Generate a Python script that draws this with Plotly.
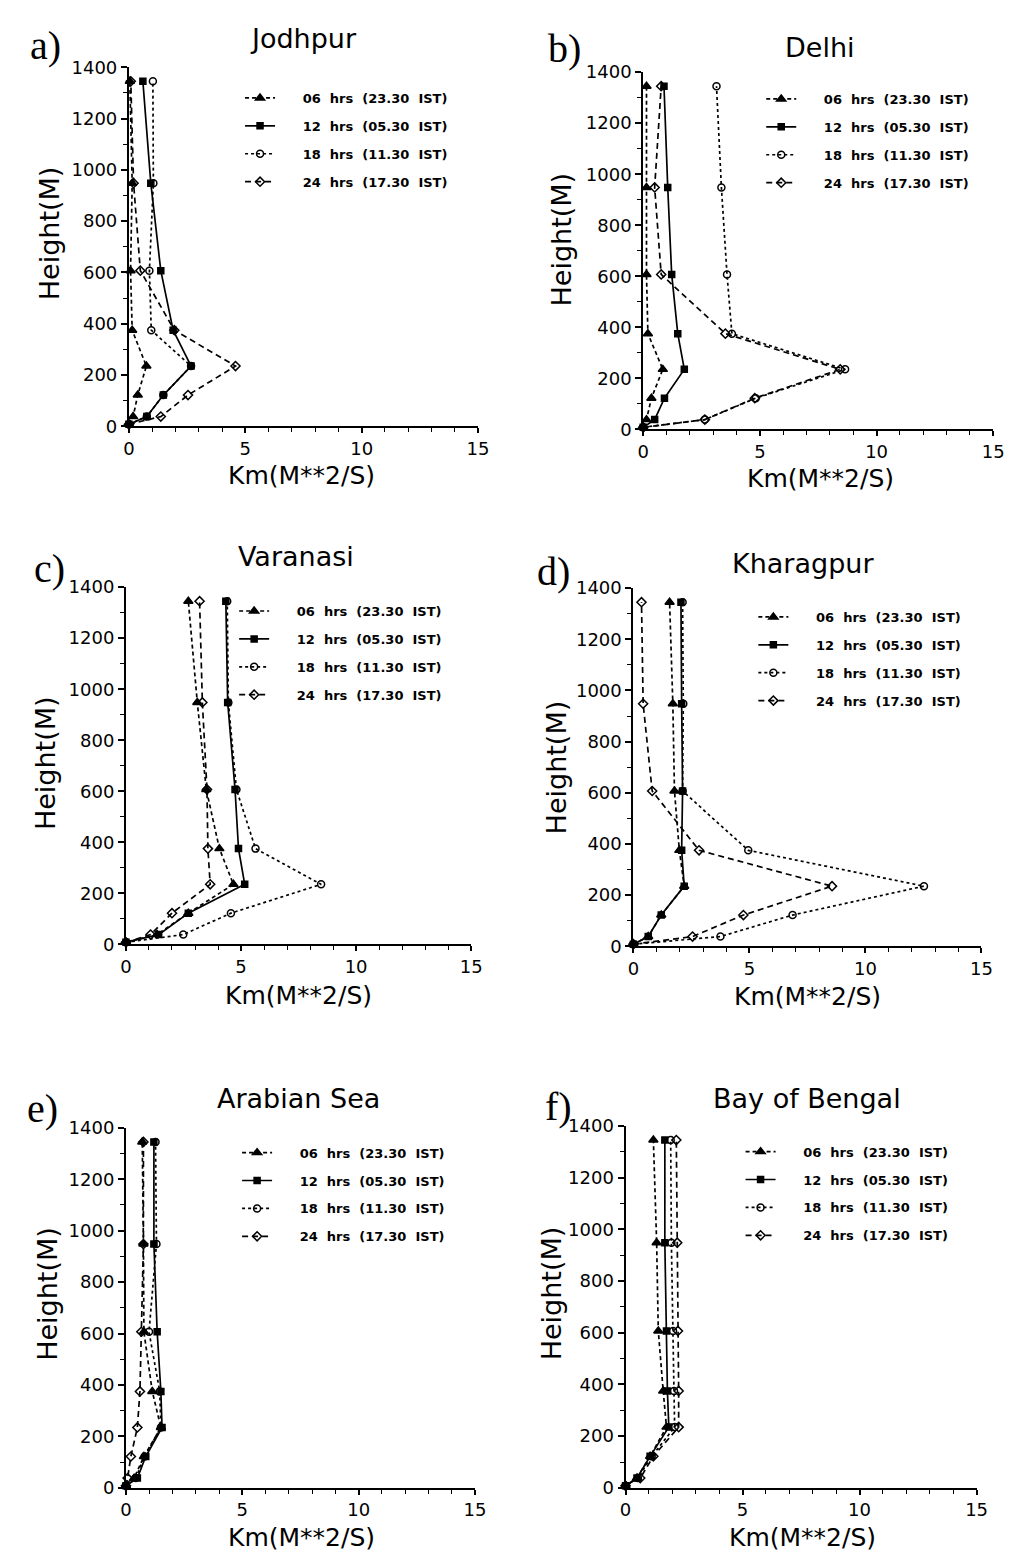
import plotly.graph_objects as go

# ---------------- data ----------------
HEIGHTS = [8, 38, 122, 235, 375, 607, 948, 1345]   # model levels (m)

SERIES_NAMES = ["06 hrs (23.30 IST)", "12 hrs (05.30 IST)",
                "18 hrs (11.30 IST)", "24 hrs (17.30 IST)"]
STATIONS = ["Jodhpur", "Delhi", "Varanasi", "Kharagpur", "Arabian Sea", "Bay of Bengal"]
PANEL_LETTERS = ["a)", "b)", "c)", "d)", "e)", "f)"]
X_TICKS = [0, 5, 10, 15]
Y_TICKS = [0, 200, 400, 600, 800, 1000, 1200, 1400]
X_TITLE = "Km(M**2/S)"
Y_TITLE = "Height(M)"

JODHPUR_06 = [0, 0.18, 0.38, 0.75, 0.14, 0.07, 0.14, 0.04]
JODHPUR_12 = [0, 0.77, 1.48, 2.67, 1.90, 1.37, 0.94, 0.60]
JODHPUR_18 = [0, 0.77, 1.48, 2.67, 0.96, 0.88, 1.05, 1.03]
JODHPUR_24 = [0, 1.37, 2.54, 4.58, 1.95, 0.49, 0.20, 0.08]

DELHI_06 = [0, 0.14, 0.35, 0.84, 0.20, 0.14, 0.14, 0.14]
DELHI_12 = [0, 0.49, 0.91, 1.76, 1.48, 1.22, 1.05, 0.89]
DELHI_18 = [0, 2.64, 4.82, 8.65, 3.80, 3.59, 3.35, 3.14]
DELHI_24 = [0, 2.64, 4.78, 8.44, 3.52, 0.77, 0.49, 0.77]

VARANASI_06 = [0, 1.35, 2.71, 4.67, 4.06, 3.49, 3.10, 2.71]
VARANASI_12 = [0, 1.42, 2.71, 5.16, 4.89, 4.74, 4.42, 4.34]
VARANASI_18 = [0, 2.49, 4.56, 8.48, 5.63, 4.80, 4.45, 4.40]
VARANASI_24 = [0, 1.07, 2.00, 3.66, 3.56, 3.52, 3.32, 3.20]

KHARAGPUR_06 = [0, 0.64, 1.20, 2.19, 1.98, 1.77, 1.70, 1.56]
KHARAGPUR_12 = [0, 0.64, 1.20, 2.19, 2.08, 2.12, 2.08, 2.05]
KHARAGPUR_18 = [0, 3.75, 6.86, 12.52, 4.95, 2.12, 2.15, 2.12]
KHARAGPUR_24 = [0, 2.55, 4.74, 8.56, 2.83, 0.81, 0.42, 0.35]

ARABIAN_06 = [0, 0.35, 0.77, 1.50, 1.13, 0.77, 0.75, 0.70]
ARABIAN_12 = [0, 0.49, 0.85, 1.55, 1.50, 1.34, 1.20, 1.20]
ARABIAN_18 = [0, 0.42, 0.80, 1.50, 1.45, 0.99, 1.31, 1.27]
ARABIAN_24 = [0, 0.07, 0.21, 0.49, 0.60, 0.66, 0.75, 0.75]

BENGAL_06 = [0, 0.49, 1.05, 1.75, 1.61, 1.40, 1.33, 1.19]
BENGAL_12 = [0, 0.49, 1.05, 1.85, 1.79, 1.75, 1.68, 1.68]
BENGAL_18 = [0, 0.53, 1.12, 2.10, 2.07, 2.03, 1.96, 1.93]
BENGAL_24 = [0, 0.63, 1.19, 2.27, 2.27, 2.24, 2.21, 2.17]

PANEL_DATA = [
    [JODHPUR_06, JODHPUR_12, JODHPUR_18, JODHPUR_24],
    [DELHI_06, DELHI_12, DELHI_18, DELHI_24],
    [VARANASI_06, VARANASI_12, VARANASI_18, VARANASI_24],
    [KHARAGPUR_06, KHARAGPUR_12, KHARAGPUR_18, KHARAGPUR_24],
    [ARABIAN_06, ARABIAN_12, ARABIAN_18, ARABIAN_24],
    [BENGAL_06, BENGAL_12, BENGAL_18, BENGAL_24],
]

# ---------------- layout / style ----------------
W, H = 1022, 1563
# plot boxes in pixels: x0, x1, ytop, ybottom
BOXES = [(125, 480, 57, 421), (648, 1004, 62, 424),
         (122, 473, 584, 946), (638, 992, 585, 948),
         (122, 477, 1132, 1497), (630, 987, 1130, 1497)]
# (first legend row centre y, legend line start x)
LEGEND_POS = [(87, 243), (88, 773), (607, 237), (613, 765), (1156, 240), (1155, 752)]
TITLE_POS = [(303, 28), (828, 37), (295, 553), (810, 560), (297, 1102), (815, 1102)]
LETTER_POS = [(40, 35), (568, 38), (44, 565), (557, 568), (37, 1112), (562, 1110)]
YTITLE_POS = [(45, 225), (565, 232), (40, 762), (560, 767), (42, 1300), (555, 1300)]
XTITLE_POS = [(300, 471), (828, 474), (297, 998), (815, 999), (300, 1547), (810, 1547)]

STYLES = [
    dict(dash="4px,3px", symbol="triangle-up", size=8),
    dict(dash="solid", symbol="square", size=6),
    dict(dash="dot", symbol="circle-open", size=7),
    dict(dash="6px,4px", symbol="diamond-open", size=7),
]

FONT = "DejaVu Sans"
NB = "\u00a0"


def px(x):
    return x / W


def py(y):
    return 1 - y / H


def legend_label(name):
    return NB * 5 + name.replace(" ", NB * 2)


fig = go.Figure()
layout = dict(width=W, height=H, margin=dict(l=0, r=0, t=0, b=0),
              paper_bgcolor="white", plot_bgcolor="white", showlegend=True,
              annotations=[])


def add_text(text, x, y, size, family=FONT, angle=0):
    layout["annotations"].append(dict(
        text=text, x=px(x), y=py(y), xref="paper", yref="paper",
        xanchor="center", yanchor="middle", showarrow=False, textangle=angle,
        font=dict(family=family, size=size, color="black")))


for p in range(6):
    sfx = "" if p == 0 else str(p + 1)
    xa, ya = "x" + sfx, "y" + sfx
    leg = "legend" + sfx
    for s in range(4):
        st = STYLES[s]
        fig.add_trace(go.Scatter(
            x=PANEL_DATA[p][s], y=HEIGHTS, xaxis=xa, yaxis=ya,
            mode="lines+markers", name=legend_label(SERIES_NAMES[s]),
            line=dict(color="black", width=1.7, dash=st["dash"]),
            marker=dict(symbol=st["symbol"], size=st["size"], color="black",
                        line=dict(color="black", width=1.5)),
            legend=leg, legendgroup=f"p{p}s{s}", cliponaxis=False,
        ))
    x0, x1, yt, yb = BOXES[p]
    axis_common = dict(showline=True, linecolor="black", linewidth=2,
                       showgrid=False, zeroline=False, ticks="outside",
                       tickcolor="black", tickwidth=1.5,
                       tickfont=dict(family=FONT, size=18, color="black"),
                       fixedrange=True)
    layout["xaxis" + sfx] = dict(axis_common, domain=[px(x0), px(x1)], range=[0, 15],
                                 anchor=ya, tickvals=X_TICKS, ticklen=5,
                                 minor=dict(dtick=1, ticks="outside", ticklen=4,
                                            tickcolor="black", tickwidth=1.2))
    layout["yaxis" + sfx] = dict(axis_common, domain=[py(yb), py(yt)], range=[0, 1400],
                                 anchor=xa, tickvals=Y_TICKS, ticklen=6,
                                 minor=dict(dtick=100, ticks="outside", ticklen=4,
                                            tickcolor="black", tickwidth=1.2))
    ly, lx = LEGEND_POS[p]
    layout[leg] = dict(x=px(lx - 5), y=py(ly - 14), xanchor="left", yanchor="top",
                       bgcolor="rgba(0,0,0,0)", borderwidth=0, tracegroupgap=8,
                       itemwidth=30, itemclick=False, itemdoubleclick=False,
                       font=dict(family="DejaVu Sans", size=13, color="black", weight="bold"))
    add_text(STATIONS[p], *TITLE_POS[p], size=27)
    add_text(PANEL_LETTERS[p], *LETTER_POS[p], size=40, family="Liberation Serif")
    add_text(Y_TITLE, *YTITLE_POS[p], size=27, angle=-90)
    add_text(X_TITLE, *XTITLE_POS[p], size=25)

fig.update_layout(**layout)
fig.write_html("out.html", config={"displayModeBar": False})
